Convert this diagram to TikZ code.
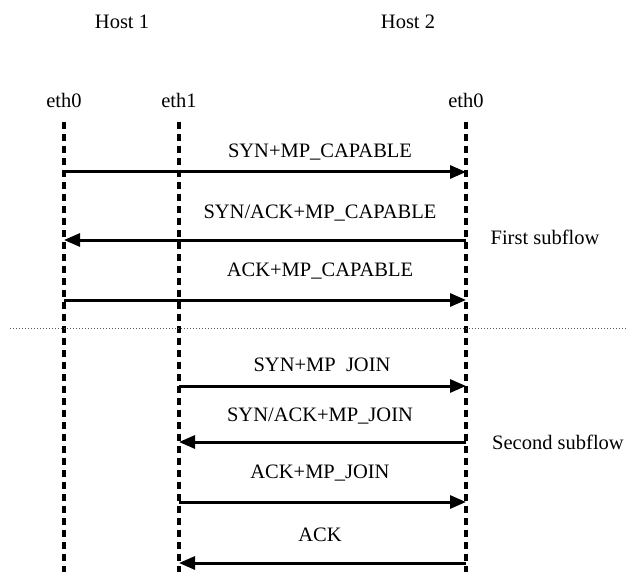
\documentclass[tikz,border=0pt]{standalone}
\usepackage{fontspec}
\setmainfont{Liberation Serif}
\usepackage{tikz}
\usetikzlibrary{arrows.meta,positioning,calc}

\begin{document}
\begin{tikzpicture}[
  x=1pt,y=-1pt,
  every node/.style={inner sep=0pt,font=\fontsize{20.5}{24}\selectfont},
  lifeline/.style={line width=3.2pt,dash pattern=on 7pt off 5pt},
  msg/.style={-{Triangle[length=16pt,width=13pt]},line width=3pt},
  sep/.style={line width=0.9pt,gray!70!black,dash pattern=on 1.4pt off 1.6pt}
]
  \useasboundingbox (0,0) rectangle (626,572);

  \node (host1) at (122,22) {Host 1};
  \node (host2) at (408,22) {Host 2};
  \node (ifA) at (64,100) {eth0};
  \node (ifB) at (179,100) {eth1};
  \node (ifC) at (466,100) {eth0};

  \coordinate (botA) at (64,572);
  \coordinate (botB) at (179,572);
  \coordinate (botC) at (466,572);
  \draw[lifeline] (ifA |- 0,122) -- (botA);
  \draw[lifeline] (ifB |- 0,122) -- (botB);
  \draw[lifeline] (ifC |- 0,122) -- (botC);

  \node (lbl1) at (320,152) {SYN+MP\_CAPABLE};
  \node (lbl2) at (320,213) {SYN/ACK+MP\_CAPABLE};
  \node (lbl3) at (320,271) {ACK+MP\_CAPABLE};
  \node (lbl4) at (322,366) {SYN+MP\phantom{\_}JOIN};
  \node (lbl5) at (320,416) {SYN/ACK+MP\_JOIN};
  \node (lbl6) at (320,473) {ACK+MP\_JOIN};
  \node (lbl7) at (320,535) {ACK};

  \draw[msg] (ifA |- 0,172) -- (ifC |- 0,172);
  \draw[msg] (ifC |- 0,240) -- (ifA |- 0,240);
  \draw[msg] (ifA |- 0,300) -- (ifC |- 0,300);
  \draw[sep] (10,328) -- (626,328);
  \draw[msg] (ifB |- 0,386) -- (ifC |- 0,386);
  \draw[msg] (ifC |- 0,442) -- (ifB |- 0,442);
  \draw[msg] (ifB |- 0,502) -- (ifC |- 0,502);
  \draw[msg] (ifC |- 0,563) -- (ifB |- 0,563);

  \node (first) at (545,237) {First subflow};
  \node (second) at (558,442) {Second subflow};
\end{tikzpicture}
\end{document}
